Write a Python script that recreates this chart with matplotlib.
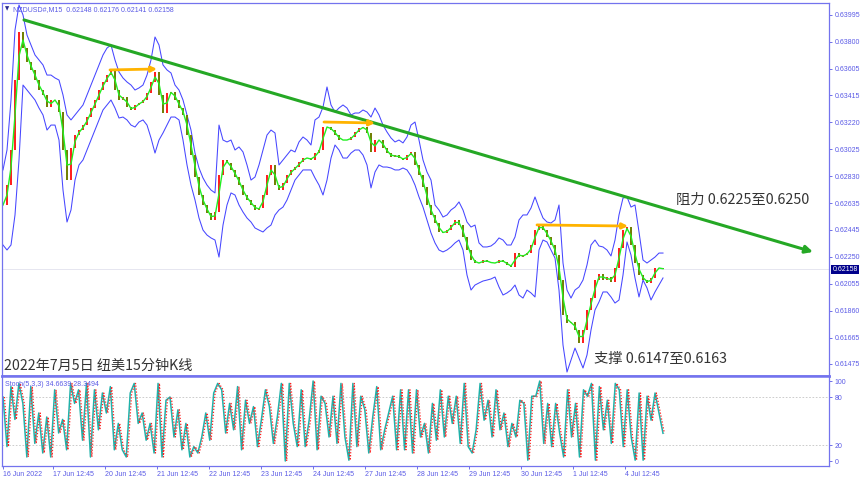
import matplotlib.pyplot as plt
import matplotlib.transforms as mtransforms
import numpy as np
import pandas as pd

plt.rcParams['font.family'] = ['Liberation Sans', 'DejaVu Sans']

close_pts = [
    62623, 62767, 63020, 63525, 63872, 63756, 63655, 63598, 63525, 63453,
    63417, 63330, 63381, 63381, 63294, 63020, 62803, 63034, 63128, 63164,
    63200, 63258, 63323, 63381, 63453, 63511, 63561, 63598, 63453, 63381,
    63403, 63330, 63309, 63345, 63359, 63381, 63432, 63511, 63583, 63417,
    63287, 63432, 63439, 63381, 63323, 63273, 63128, 62984, 62825, 62695,
    62623, 62565, 62515, 62572, 62839, 62948, 62926, 62876, 62825, 62767,
    62695, 62659, 62623, 62587, 62601, 62695, 62839, 62912, 62767, 62731,
    62782, 62839, 62876, 62897, 62933, 62962, 62962, 62948, 62998, 63020,
    63186, 63186, 63164, 63128, 63092, 63092, 63092, 63114, 63150, 63179,
    63186, 63143, 63006, 63092, 63092, 63034, 62998, 62969, 62984, 62962,
    62948, 62984, 63006, 62912, 62839, 62753, 62623, 62551, 62493, 62428,
    62421, 62442, 62478, 62515, 62478, 62392, 62298, 62226, 62204, 62204,
    62226, 62211, 62204, 62204, 62226, 62211, 62190, 62175, 62276, 62247,
    62262, 62276, 62334, 62442, 62478, 62442, 62392, 62334, 62262, 62081,
    61829, 61771, 61778, 61720, 61627, 61720, 61865, 61951, 62081, 62125,
    62081, 62103, 62067, 62168, 62312, 62442, 62464, 62334, 62204, 62117,
    62081, 62060, 62096, 62168, 62168, 62158]

upper_pts = [
    62876, 63020, 63381, 63886, 64067, 63995, 63850, 63778, 63706, 63670,
    63634, 63561, 63561, 63540, 63525, 63417, 63273, 63237, 63273, 63309,
    63345, 63417, 63489, 63561, 63634, 63706, 63756, 63778, 63670, 63583,
    63540, 63511, 63489, 63453, 63468, 63489, 63561, 63670, 63836, 63778,
    63634, 63598, 63576, 63489, 63453, 63381, 63273, 63164, 62998, 62890,
    62818, 62767, 62731, 62710, 63200, 63092, 63078, 63092, 63020, 63042,
    63006, 62912, 62803, 62825, 62912, 63020, 63128, 63164, 63143, 62912,
    62948, 62984, 63020, 63006, 63078, 63114, 63092, 63056, 63237, 63258,
    63330, 63475, 63345, 63294, 63323, 63345, 63323, 63273, 63287, 63287,
    63309, 63294, 63258, 63323, 63273, 63200, 63150, 63107, 63078, 63092,
    63071, 63114, 63200, 63222, 63092, 62948, 62861, 62803, 62623, 62587,
    62536, 62551, 62587, 62608, 62645, 62587, 62500, 62464, 62478, 62349,
    62320, 62320, 62327, 62349, 62385, 62370, 62334, 62334, 62392, 62515,
    62551, 62551, 62601, 62681, 62601, 62529, 62500, 62493, 62515, 62623,
    62204, 62009, 61951, 62009, 62031, 62081, 62190, 62334, 62370, 62327,
    62320, 62298, 62255, 62370, 62551, 62673, 62681, 62608, 62623, 62428,
    62226, 62204, 62226, 62247, 62276, 62276]

lower_pts = [
    62334, 62298, 62334, 62551, 62948, 63489, 63453, 63417, 63381, 63323,
    63273, 63164, 63200, 63200, 63092, 62731, 62500, 62587, 62803, 62912,
    62948, 63020, 63092, 63164, 63237, 63309, 63345, 63381, 63323, 63251,
    63258, 63237, 63200, 63186, 63222, 63237, 63200, 63107, 62998, 63092,
    63143, 63200, 63258, 63258, 63237, 63092, 62912, 62767, 62659, 62529,
    62442, 62406, 62385, 62370, 62247, 62478, 62623, 62710, 62695, 62623,
    62572, 62529, 62500, 62457, 62442, 62428, 62457, 62478, 62551, 62587,
    62608, 62659, 62731, 62803, 62839, 62876, 62876, 62876, 62818, 62767,
    62695, 62803, 62962, 63056, 63020, 62962, 62962, 62998, 63020, 63020,
    62984, 62912, 62746, 62861, 62912, 62897, 62897, 62890, 62876, 62876,
    62890, 62876, 62832, 62767, 62681, 62608, 62515, 62421, 62349, 62298,
    62284, 62298, 62320, 62349, 62370, 62298, 62117, 62009, 62045, 62060,
    62074, 62081, 62089, 62103, 62031, 61973, 61988, 62009, 62045, 61973,
    61951, 62009, 61988, 61959, 62298, 62370, 62356, 62298, 62240, 62009,
    61612, 61417, 61504, 61590, 61518, 61446, 61540, 61720, 61865, 61923,
    61995, 61995, 61959, 61915, 61937, 62117, 62356, 62262, 62096, 61959,
    62081, 62024, 61937, 61995, 62045, 62096]

# Stoch(5,3,3) main line, turning points read left to right
stoch_k = [
    80, 18, 93, 52, 97, 72, 5, 93, 22, 60, 10, 55, 5, 89, 35, 52, 14, 97, 72, 89,
    26, 97, 5, 89, 39, 85, 60, 93, 14, 47, 14, 5, 85, 97, 47, 60, 26, 47, 10, 97,
    5, 76, 80, 30, 64, 14, 47, 5, 18, 10, 30, 60, 26, 85, 97, 89, 35, 72, 39, 93,
    14, 76, 47, 68, 18, 52, 89, 68, 22, 55, 97, 0, 97, 47, 18,
    89, 18, 51, 100, 14, 81, 72, 30, 81, 22, 97, 30, 1, 97, 18, 81, 64, 10, 55, 93,
    14, 39, 60, 81, 14, 89, 14, 89, 10, 89, 30, 47, 10, 72, 26, 89, 30, 81, 47, 81,
    22, 97, 18, 10, 39, 97, 51, 76, 30, 89, 39, 60, 18, 47, 30, 76, 72, 1, 81, 81,
    100, 22, 72, 18, 72, 35, 5, 89, 30, 72, 5, 89, 81, 97, 1, 93,
    39, 76, 22, 97, 89, 18, 89, 30, 1, 85, 1, 81, 51, 85, 60, 34.66]

price_ticks = [0.63995, 0.63800, 0.63605, 0.63415, 0.63220, 0.63025, 0.62830,
               0.62635, 0.62445, 0.62250, 0.62055, 0.61860, 0.61665, 0.61475]
last_price = 0.62158
date_labels = ['16 Jun 2022', '17 Jun 12:45', '20 Jun 12:45', '21 Jun 12:45',
               '22 Jun 12:45', '23 Jun 12:45', '24 Jun 12:45', '27 Jun 12:45',
               '28 Jun 12:45', '29 Jun 12:45', '30 Jun 12:45', '1 Jul 12:45',
               '4 Jul 12:45']
bars_per_day = 13

# drawn objects: (bar, price)
trend_line = [(5.25, 0.63959), (202.5, 0.62284)]
level_arrows = [((26.75, 0.63598), (38.5, 0.63605)),
                ((80.25, 0.63222), (93.0, 0.63215)),
                ((133.5, 0.62479), (156.25, 0.62471))]

BLUE = '#5a5ae6'
SPINE = '#7373ee'

close = np.array(close_pts) / 1e5
upper = np.array(upper_pts) / 1e5
lower = np.array(lower_pts) / 1e5
idx = np.arange(len(close))
open_ = np.r_[close[0], close[:-1]]
ma = pd.Series(close).rolling(2, min_periods=1).mean()

W, H = 865, 480
fig = plt.figure(figsize=(W / 100, H / 100), dpi=100)
ax = fig.add_axes([2 / W, 1 - 376 / H, 827 / W, 373 / H])
ax2 = fig.add_axes([2 / W, 1 - 466 / H, 827 / W, 90 / H])

# ---- main price panel
ax.axhline(last_price, color='#e2e2ee', lw=0.6, zorder=0)
ax.plot(idx, upper, color='#4646ff', lw=0.75)
ax.plot(idx, lower, color='#4646ff', lw=0.75)
up = close >= open_
ax.vlines(idx[up], open_[up], close[up], color='#ff1a1a', lw=1.4)
ax.vlines(idx[~up], open_[~up], close[~up], color='#6f7d00', lw=1.4)
ax.plot(idx, ma, color='#22ee22', lw=1.0)

(x0, y0), (x1, y1) = trend_line
ax.annotate('', xy=(x1, y1), xytext=(x0, y0), annotation_clip=False,
            arrowprops=dict(arrowstyle='-|>', color='#25a825', lw=2.2,
                            mutation_scale=11, shrinkA=0, shrinkB=0))
for start, end in level_arrows:
    ax.annotate('', xy=end, xytext=start,
                arrowprops=dict(arrowstyle='-|>', color='#ffb300', lw=2.0,
                                mutation_scale=8, shrinkA=0, shrinkB=0))

cjk = ['Noto Sans CJK SC', 'DejaVu Sans']
ax.text(168.25, 0.62659, '阻力 0.6225至0.6250', family=cjk, fontsize=10.3,
        color='#333333', va='center', ha='left')
ax.text(147.75, 0.61511, '支撑 0.6147至0.6163', family=cjk, fontsize=10.3,
        color='#333333', va='center', ha='left')
ax.text(0.003, 0.6146, '2022年7月5日 纽美15分钟K线', family=cjk, fontsize=10.2,
        color='#333333', va='center', ha='left',
        transform=mtransforms.blended_transform_factory(ax.transAxes, ax.transData))
ax.text(0.004, 0.99, '\u25bc', transform=ax.transAxes, fontsize=4,
        family='DejaVu Sans', color='#2a2a90', va='top')
ax.text(0.0135, 0.992, 'NZDUSD#,M15  0.62148 0.62176 0.62141 0.62158',
        transform=ax.transAxes, fontsize=5, color=BLUE, va='top')

ax.set_xlim(-0.25, 206.5)
ax.set_ylim(0.613883, 0.640813)
ax.set_xticks([])
ax.yaxis.tick_right()
ax.set_yticks(price_ticks)
ax.set_yticklabels([f'{p:.5f}' for p in price_ticks])
ax.tick_params(axis='y', colors=BLUE, labelsize=5, length=2.5, width=0.6, pad=1.5)
ax.text(1.0045, last_price, f'{last_price:.5f}', transform=ax.get_yaxis_transform(),
        fontsize=5, color='white', va='center', ha='left',
        bbox=dict(boxstyle='square,pad=0.2', fc='#00008b', ec='none'))

# ---- stochastic panel
xs = np.linspace(0, len(close) - 1, len(stoch_k))
lag = (xs[1] - xs[0]) * 0.35
ax2.axhline(80, color='#c4c4c4', lw=0.6, ls=(0, (2, 2)))
ax2.axhline(20, color='#c4c4c4', lw=0.6, ls=(0, (2, 2)))
ax2.plot(xs, stoch_k, color='#20b2aa', lw=1.1)
ax2.plot(xs + lag, stoch_k, color='#ff2020', lw=0.9, ls=(0, (1, 1.4)))
ax2.text(0.004, 0.94, 'Stoch(5,3,3) 34.6639 28.3494', transform=ax2.transAxes,
         fontsize=5, color=BLUE, va='top')
ax2.set_xlim(-0.25, 206.5)
ax2.set_ylim(-6.25, 106.25)
ax2.yaxis.tick_right()
ax2.set_yticks([0, 20, 80, 100])
ax2.tick_params(axis='y', colors=BLUE, labelsize=5, length=2.5, width=0.6, pad=1.5)

tick_pos = np.arange(len(date_labels)) * bars_per_day - 0.5
tick_pos[0] = 0
ax2.set_xticks(tick_pos)
ax2.set_xticklabels(date_labels)
ax2.tick_params(axis='x', colors=BLUE, labelsize=5, length=2, width=0.6, pad=1.5)
for lbl in ax2.get_xticklabels():
    lbl.set_ha('left')

for a in (ax, ax2):
    for s in a.spines.values():
        s.set_color(SPINE)
        s.set_linewidth(0.9)
ax.spines['bottom'].set_linewidth(1.8)
ax2.spines['top'].set_linewidth(1.8)

fig.savefig('out.png', dpi=100)
